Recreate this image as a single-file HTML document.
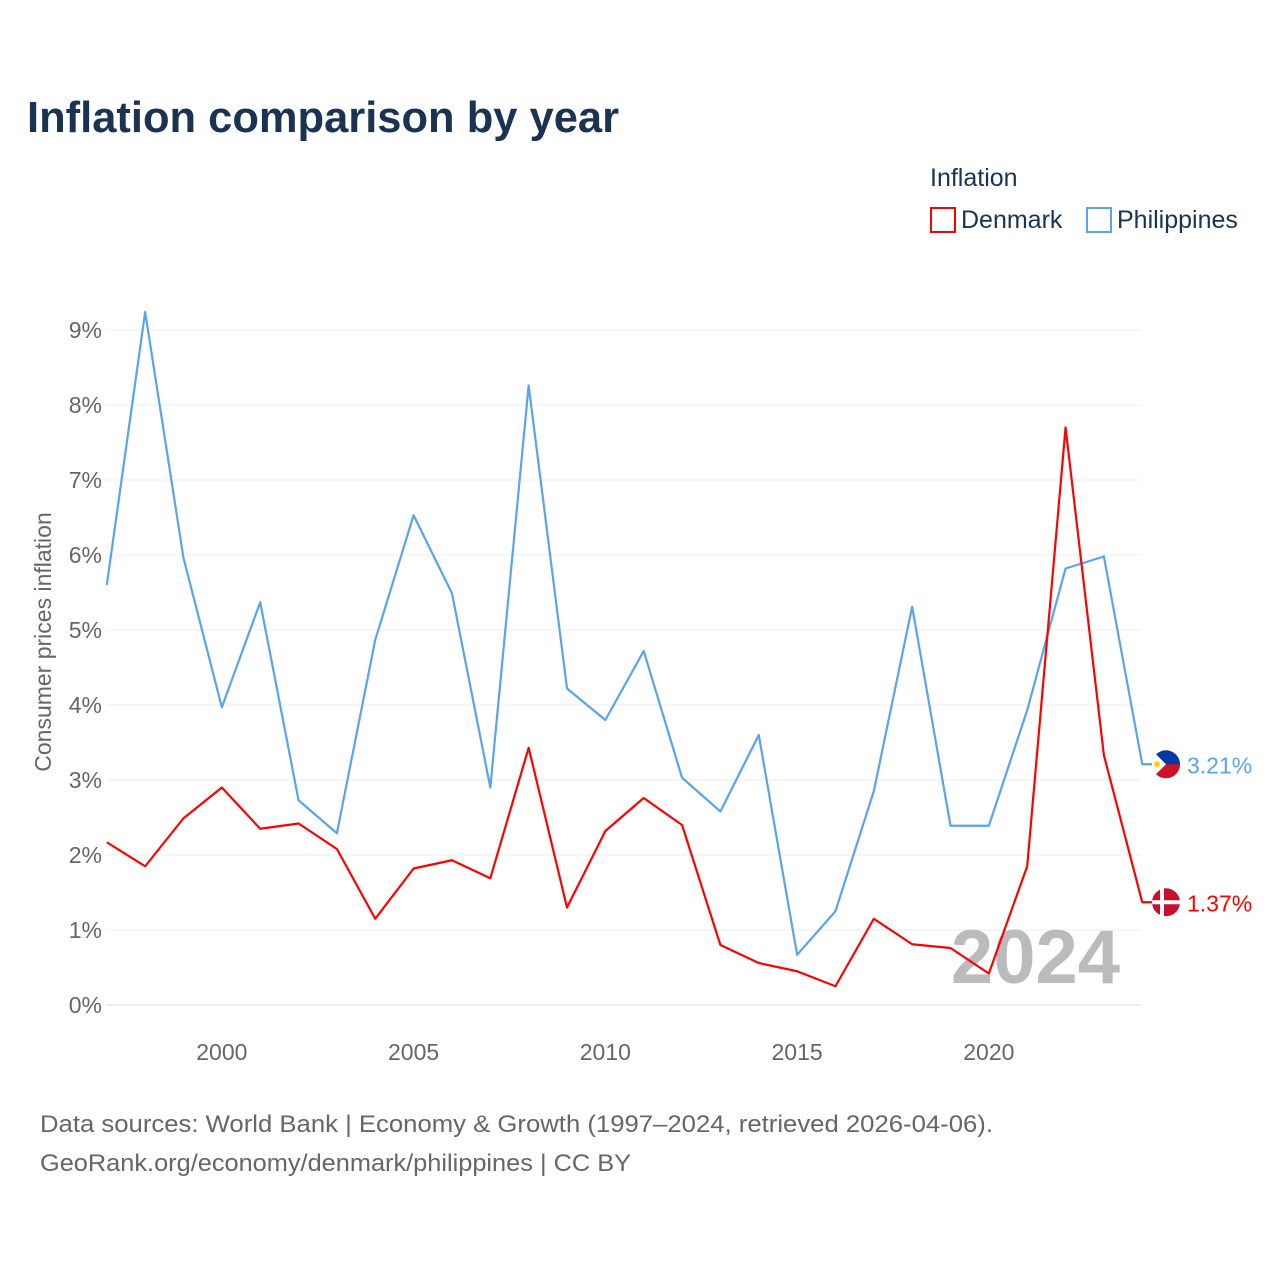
<!DOCTYPE html>
<html><head><meta charset="utf-8"><style>
body{margin:0;background:#fff;font-family:"Liberation Sans",sans-serif}
</style></head><body>
<svg id="chart" width="1280" height="1280" xmlns="http://www.w3.org/2000/svg" style="font-family:'Liberation Sans',sans-serif">
<rect width="1280" height="1280" fill="#fff"/>
<text x="27" y="132" font-size="44" font-weight="bold" fill="#1a3352" textLength="592" lengthAdjust="spacingAndGlyphs">Inflation comparison by year</text>
<text x="930" y="186" font-size="25" fill="#1a3352">Inflation</text>
<g><rect x="931" y="208" width="24" height="24" fill="none" stroke="#ff0000" stroke-width="2"/><text x="961" y="228" font-size="25" fill="#1a3352">Denmark</text></g>
<g><rect x="1087" y="208" width="24" height="24" fill="none" stroke="#5ba3ea" stroke-width="2"/><text x="1117" y="228" font-size="25" fill="#1a3352">Philippines</text></g>
<text transform="translate(51,642) rotate(-90)" text-anchor="middle" font-size="23" fill="#666">Consumer prices inflation</text>
<g id="grid"></g><g id="xt"></g>
<text x="1120" y="983" text-anchor="end" font-size="76" font-weight="bold" fill="#bbb">2024</text>
<g id="series"></g>
<text x="40" y="1132" font-size="24" fill="#666" textLength="953" lengthAdjust="spacingAndGlyphs">Data sources: World Bank | Economy &amp; Growth (1997–2024, retrieved 2026-04-06).</text>
<text x="40" y="1171" font-size="24" fill="#666" textLength="591" lengthAdjust="spacingAndGlyphs">GeoRank.org/economy/denmark/philippines | CC BY</text>
</svg>
<script>
const years=[1997,1998,1999,2000,2001,2002,2003,2004,2005,2006,2007,2008,2009,2010,2011,2012,2013,2014,2015,2016,2017,2018,2019,2020,2021,2022,2023,2024];
const philippines=[5.6,9.24,5.96,3.97,5.37,2.73,2.29,4.87,6.53,5.49,2.9,8.26,4.22,3.8,4.72,3.03,2.58,3.6,0.67,1.25,2.85,5.31,2.39,2.39,3.93,5.82,5.98,3.21];
const denmark=[2.17,1.85,2.49,2.9,2.35,2.42,2.08,1.15,1.82,1.93,1.69,3.43,1.3,2.32,2.76,2.4,0.8,0.56,0.45,0.25,1.15,0.81,0.76,0.42,1.85,7.7,3.33,1.37];
const yTicks=[0,1,2,3,4,5,6,7,8,9];
const xTicks=[2000,2005,2010,2015,2020];
const NS="http://www.w3.org/2000/svg";
const X=v=>106.8+(v-1997)*38.35, Y=v=>1005-v*75;
function mk(t,a,p){const e=document.createElementNS(NS,t);for(const k in a)e.setAttribute(k,a[k]);p.appendChild(e);return e;}
const grid=document.getElementById('grid');
yTicks.forEach(t=>{
 const l=mk('line',{x1:106,x2:1141,y1:Y(t),y2:Y(t),stroke:t===0?'#ddd':'#eee','stroke-width':1},grid);
 
 
 const tx=mk('text',{x:102,y:Y(t)+8,'text-anchor':'end','font-size':23,fill:'#666'},grid);tx.textContent=t+'%';
 
 
});
const xt=document.getElementById('xt');
xTicks.forEach(t=>{
 const tx=mk('text',{x:X(t),y:1060,'text-anchor':'middle','font-size':23,fill:'#666'},xt);tx.textContent=t;
 
 
});
const sg=document.getElementById('series');
function draw(vals,color,name,lbl){
 const pts=vals.map((v,i)=>X(years[i])+','+Y(v)).join(' ');
 const pl=mk('polyline',{points:pts+' '+(X(2024)+10)+','+Y(vals[vals.length-1]),fill:'none',stroke:color,'stroke-width':2.2,'stroke-linejoin':'round'},sg);
 
 
 const y=Y(vals[vals.length-1]);
 const c=mk('circle',{cx:1166,cy:y,r:14,fill:color==='#ff0000'?'#c8102e':'#0038a8'},sg);
 if(color==='#ff0000'){mk('rect',{x:1152,y:y-2,width:28,height:4,fill:'#fff'},sg);mk('rect',{x:1160,y:y-14,width:4,height:28,fill:'#fff'},sg);}
 else{mk('path',{d:`M1152,${y} A14,14 0 0 0 1180,${y} Z`,fill:'#ce1126'},sg);mk('path',{d:`M1152,${y-14} L1166,${y} L1152,${y+14} Z`,fill:'#fff'},sg);mk('circle',{cx:1157,cy:y,r:3,fill:'#fcd116'},sg);}
 
 
 const t=mk('text',{x:1187,y:y+9,'font-size':23,fill:color},sg);t.textContent=lbl(vals[vals.length-1]);
 
 
}
draw(philippines,'#5ba3ea','philippines',v=>v.toFixed(2)+'%');
draw(denmark,'#ff0000','denmark',v=>v.toFixed(2)+'%');
</script>
</body></html>
